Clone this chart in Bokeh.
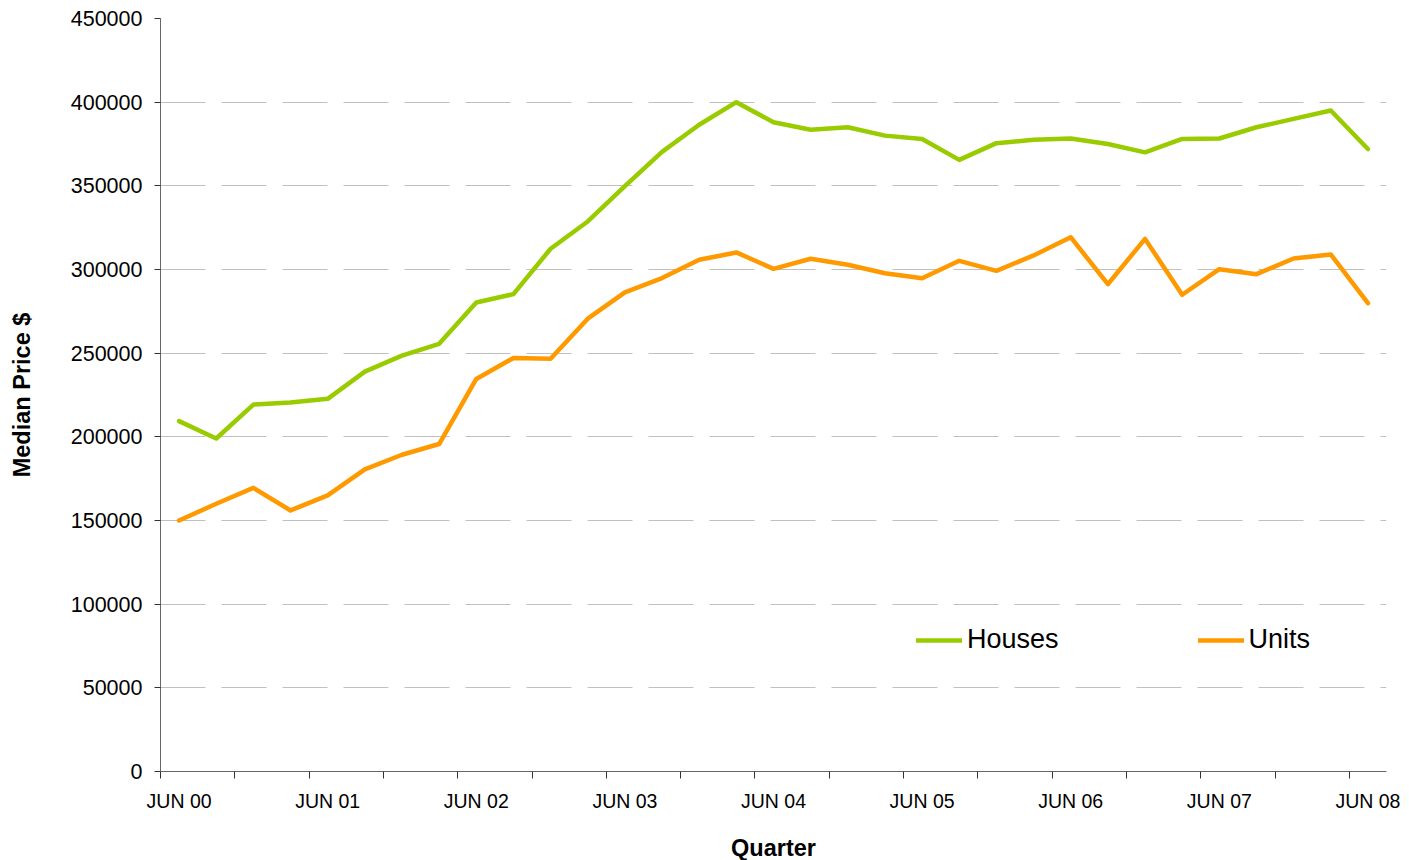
from bokeh.plotting import figure
from bokeh.models import FixedTicker, Legend, LegendItem, Range1d
from bokeh.embed import file_html
from bokeh.resources import INLINE

quarters = []
for yr in range(0, 9):
    for m in ["JUN", "SEP", "DEC", "MAR"]:
        y = yr if m in ("JUN", "SEP", "DEC") else yr + 1
        quarters.append(f"{m} {y:02d}")
quarters = quarters[:33]

houses = [209400, 199000, 219300, 220500, 222700, 239000, 248500, 255600, 280300,
          285300, 312400, 328700, 349800, 370300, 386500, 400000, 388000, 383500,
          385000, 380000, 378000, 365500, 375500, 377500, 378300, 375000, 370000,
          378000, 378300, 385000, 390000, 395000, 372000]
units = [150000, 160000, 169500, 156000, 165000, 180500, 189300, 195700, 234600,
         247100, 246700, 270600, 286300, 294900, 305800, 310200, 300400, 306400,
         302800, 297800, 294800, 305200, 299200, 308400, 319300, 291200, 318300,
         284900, 300200, 297200, 306600, 309000, 279900]

y_ticks = [0, 50000, 100000, 150000, 200000, 250000, 300000, 350000, 400000, 450000]

x = list(range(len(quarters)))
label_idx = [i for i, q in enumerate(quarters) if q.startswith("JUN")]
boundary_ticks = [i - 0.5 for i in range(0, len(quarters), 2)]

FONT = "Liberation Sans"

p = figure(frame_width=1226, frame_height=753, output_backend="svg",
           toolbar_location=None, x_range=Range1d(-0.5, len(quarters) - 0.5),
           y_range=Range1d(0, 450000),
           min_border_left=160, min_border_right=17, min_border_top=18,
           min_border_bottom=85)
p.outline_line_color = None
p.background_fill_color = "white"
p.border_fill_color = "white"

r1 = p.line(x, houses, line_color="#99CC00", line_width=4.5, line_join="round", line_cap="round")
r2 = p.line(x, units, line_color="#FF9900", line_width=4.5, line_join="round", line_cap="round")

xa = p.xaxis[0]
xa.ticker = FixedTicker(ticks=label_idx, minor_ticks=boundary_ticks)
xa.major_label_overrides = {i: quarters[i] for i in label_idx}
xa.major_tick_out = 0
xa.major_tick_in = 0
xa.minor_tick_out = 7
xa.minor_tick_in = 0
xa.minor_tick_line_color = "#333333"
xa.axis_line_color = "#666666"
xa.major_label_text_font = FONT
xa.major_label_text_font_size = "19.5px"
xa.major_label_text_color = "black"
xa.major_label_standoff = 11
xa.axis_label = "Quarter"
xa.axis_label_text_font = FONT
xa.axis_label_text_font_style = "bold"
xa.axis_label_text_font_size = "23.5px"
xa.axis_label_text_color = "black"
xa.axis_label_standoff = 20

ya = p.yaxis[0]
ya.ticker = FixedTicker(ticks=y_ticks)
ya.formatter.use_scientific = False
ya.major_tick_out = 6
ya.major_tick_in = 0
ya.minor_tick_out = 0
ya.major_tick_line_color = "#333333"
ya.axis_line_color = "#666666"
ya.major_label_text_font = FONT
ya.major_label_text_font_size = "21.5px"
ya.major_label_text_color = "black"
ya.major_label_standoff = 12
ya.axis_label = "Median Price $"
ya.axis_label_text_font = FONT
ya.axis_label_text_font_style = "bold"
ya.axis_label_text_font_size = "23.5px"
ya.axis_label_text_color = "black"
ya.axis_label_standoff = 33

p.xgrid.grid_line_color = None
p.ygrid.ticker = FixedTicker(ticks=y_ticks[1:])
p.ygrid.grid_line_color = "#C0C0C0"
p.ygrid.grid_line_dash = "45 16"
p.ygrid.grid_line_width = 1

legend = Legend(items=[LegendItem(label="Houses", renderers=[r1]),
                       LegendItem(label="Units", renderers=[r2])],
                orientation="horizontal", location=(756, 116),
                border_line_color=None, background_fill_alpha=0,
                padding=0, margin=0, spacing=139, glyph_width=46,
                glyph_height=30, label_height=30, label_standoff=5,
                label_text_font=FONT, label_text_font_size="27px",
                label_text_color="black")
p.add_layout(legend)

open("out.html", "w").write(file_html(p, INLINE))
